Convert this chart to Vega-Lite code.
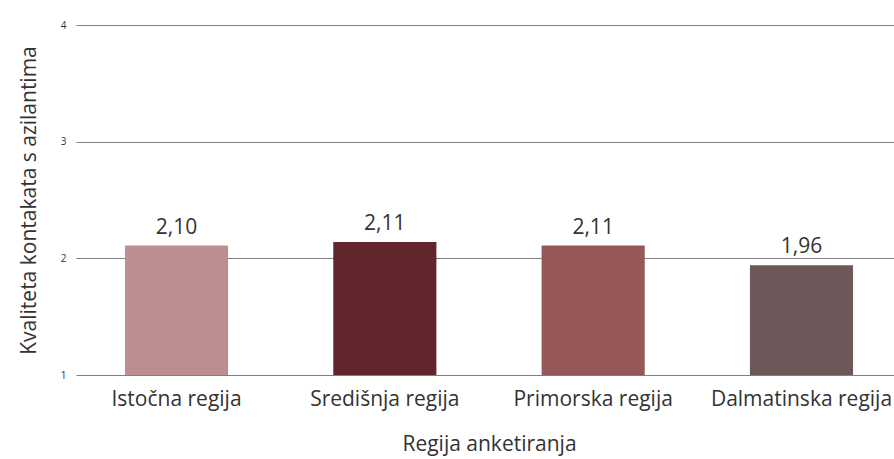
{
  "$schema": "https://vega.github.io/schema/vega-lite/v6.json",
  "width": 818,
  "height": 350,
  "autosize": {"type": "none"},
  "padding": {"left": 76, "top": 25, "right": 0, "bottom": 84},
  "config": {
    "font": "Open Sans",
    "view": {"stroke": null},
    "background": "white"
  },
  "data": {
    "values": [
      {"regija": "Istočna regija", "vrijednost": 2.11, "oznaka": "2,10"},
      {"regija": "Središnja regija", "vrijednost": 2.14, "oznaka": "2,11"},
      {"regija": "Primorska regija", "vrijednost": 2.11, "oznaka": "2,11"},
      {"regija": "Dalmatinska regija", "vrijednost": 1.94, "oznaka": "1,96"}
    ]
  },
  "encoding": {
    "x": {
      "field": "regija",
      "type": "nominal",
      "sort": null,
      "scale": {"paddingInner": 0.505, "paddingOuter": 0.235, "range": [0, 826]},
      "axis": {
        "title": "Regija anketiranja",
        "labelAngle": 0,
        "labelFontSize": 21,
        "labelColor": "#333333",
        "labelPadding": 13,
        "labelLimit": 500,
        "labelOverlap": false,
        "labelBound": false,
        "titleFontSize": 21,
        "titleFontWeight": "normal",
        "titleColor": "#333333",
        "titlePadding": 24,
        "domain": false,
        "ticks": false
      }
    }
  },
  "layer": [
    {
      "mark": {"type": "bar"},
      "encoding": {
        "y": {
          "field": "vrijednost",
          "type": "quantitative",
          "scale": {"domain": [1, 4], "zero": false, "nice": false},
          "axis": {
            "title": "Kvaliteta kontakata s azilantima",
            "values": [1, 2, 3, 4],
            "format": "d",
            "labelFontSize": 10,
            "labelColor": "#333333",
            "labelPadding": 10,
            "titleFontSize": 21,
            "titleFontWeight": "normal",
            "titleColor": "#333333",
            "titlePadding": 21,
            "domain": false,
            "ticks": false,
            "grid": true,
            "gridColor": "#7f7f7f",
            "gridWidth": 1
          }
        },
        "y2": {"datum": 1},
        "color": {
          "field": "regija",
          "type": "nominal",
          "sort": null,
          "legend": null,
          "scale": {
            "domain": ["Istočna regija", "Središnja regija", "Primorska regija", "Dalmatinska regija"],
            "range": ["#bc8e8f", "#61262b", "#955757", "#6c5859"]
          }
        }
      }
    },
    {
      "mark": {"type": "text", "baseline": "alphabetic", "dy": -12, "fontSize": 21, "color": "#333333"},
      "encoding": {
        "y": {"field": "vrijednost", "type": "quantitative"},
        "text": {"field": "oznaka", "type": "nominal"}
      }
    }
  ]
}
